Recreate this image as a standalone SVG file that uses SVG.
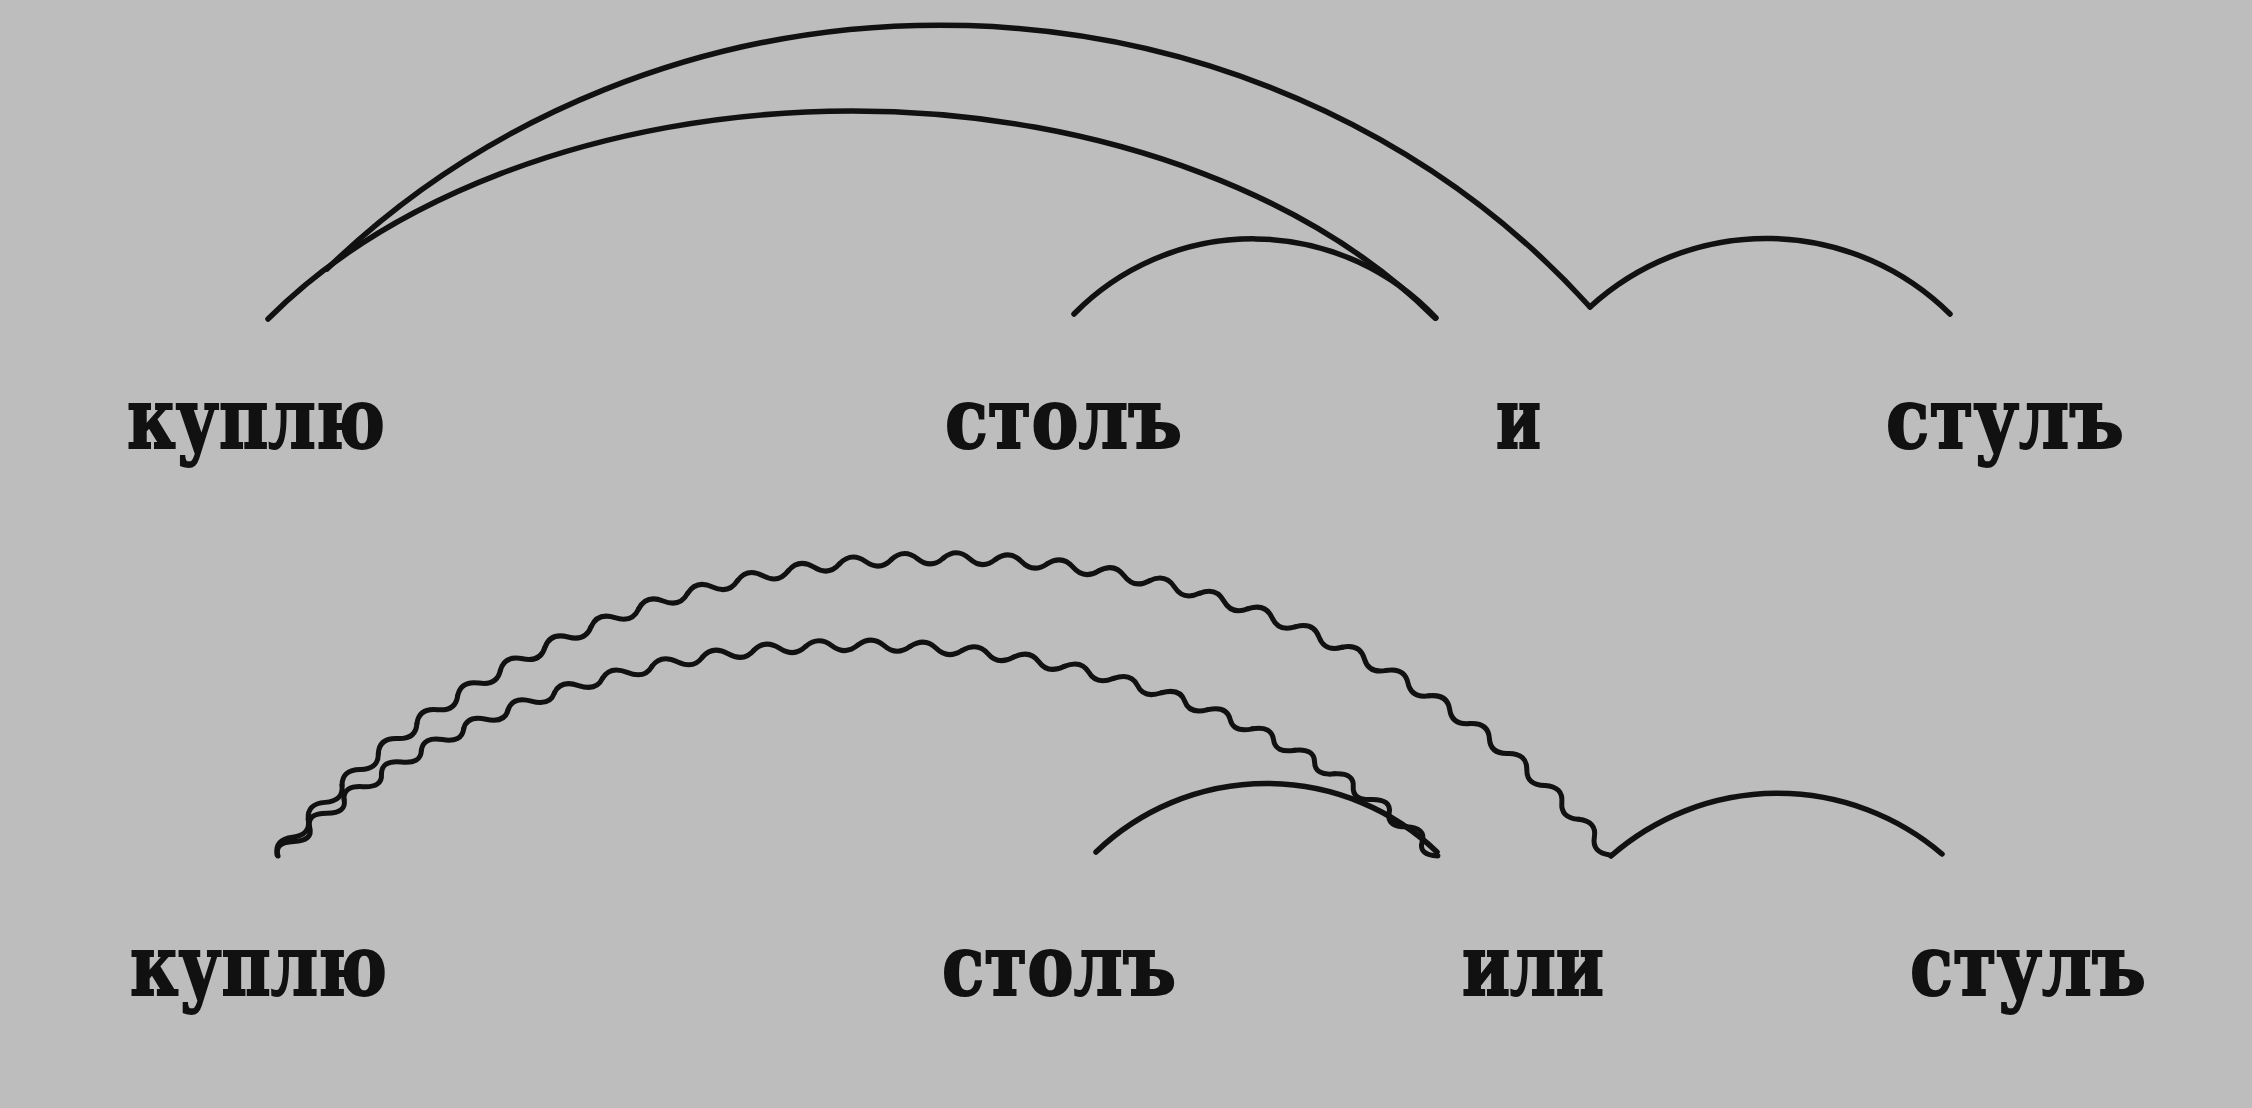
<svg xmlns="http://www.w3.org/2000/svg" xmlns:xlink="http://www.w3.org/1999/xlink" width="2252" height="1108" viewBox="0 0 2252 1108">
<style>
.arc{fill:none;stroke:#111;stroke-width:5.5;stroke-linecap:round}
.wv{fill:none;stroke:#111;stroke-width:5;stroke-linecap:round;stroke-linejoin:round}
.lbl{font-family:"DejaVu Serif","Liberation Serif",serif;font-weight:bold;font-size:84px;fill:#111;stroke:#111;stroke-width:2}
</style>
<defs>
<path id="wo" class="wv" vector-effect="non-scaling-stroke" d="M-26.03,-813.18 q13.015,-13 26.03,0 t26.03,0"/>
<path id="wi" class="wv" vector-effect="non-scaling-stroke" d="M-26.134,-707.52 q13.067,-15 26.134,0 t26.134,0"/>
</defs>
<rect width="2252" height="1108" fill="#bdbdbd"/>
<g id="connectors">
<g id="top-arcs">
<path class="arc" d="M327,269 A850,793 0 0 1 1590,307"/>
<path class="arc" d="M268,319 A700,463.5 0 0 1 1435,318"/>
<path class="arc" d="M1074,314 A251,251 0 0 1 1436,318"/>
<path class="arc" d="M1590,307 A261,261 0 0 1 1950,314"/>
</g>
<g id="bottom-arcs">
<path class="arc" d="M1096,852 A246.5,246.5 0 0 1 1437,852"/>
<path class="arc" d="M1611,856 A253,253 0 0 1 1942,854"/>
<g id="wavy-outer" transform="translate(943.5,1254.5) scale(1,0.8561)">
<use xlink:href="#wo" transform="rotate(-53.1667)"/>
<use xlink:href="#wo" transform="rotate(-49.5)"/>
<use xlink:href="#wo" transform="rotate(-45.8333)"/>
<use xlink:href="#wo" transform="rotate(-42.1667)"/>
<use xlink:href="#wo" transform="rotate(-38.5)"/>
<use xlink:href="#wo" transform="rotate(-34.8333)"/>
<use xlink:href="#wo" transform="rotate(-31.1667)"/>
<use xlink:href="#wo" transform="rotate(-27.5)"/>
<use xlink:href="#wo" transform="rotate(-23.8333)"/>
<use xlink:href="#wo" transform="rotate(-20.1667)"/>
<use xlink:href="#wo" transform="rotate(-16.5)"/>
<use xlink:href="#wo" transform="rotate(-12.8333)"/>
<use xlink:href="#wo" transform="rotate(-9.1667)"/>
<use xlink:href="#wo" transform="rotate(-5.5)"/>
<use xlink:href="#wo" transform="rotate(-1.8333)"/>
<use xlink:href="#wo" transform="rotate(1.8333)"/>
<use xlink:href="#wo" transform="rotate(5.5)"/>
<use xlink:href="#wo" transform="rotate(9.1667)"/>
<use xlink:href="#wo" transform="rotate(12.8333)"/>
<use xlink:href="#wo" transform="rotate(16.5)"/>
<use xlink:href="#wo" transform="rotate(20.1667)"/>
<use xlink:href="#wo" transform="rotate(23.8333)"/>
<use xlink:href="#wo" transform="rotate(27.5)"/>
<use xlink:href="#wo" transform="rotate(31.1667)"/>
<use xlink:href="#wo" transform="rotate(34.8333)"/>
<use xlink:href="#wo" transform="rotate(38.5)"/>
<use xlink:href="#wo" transform="rotate(42.1667)"/>
<use xlink:href="#wo" transform="rotate(45.8333)"/>
<use xlink:href="#wo" transform="rotate(49.5)"/>
<use xlink:href="#wo" transform="rotate(53.1667)"/>
</g>
<g id="wavy-inner" transform="translate(858,1139.8) scale(1,0.6989)">
<use xlink:href="#wi" transform="rotate(-52.8846)"/>
<use xlink:href="#wi" transform="rotate(-48.6538)"/>
<use xlink:href="#wi" transform="rotate(-44.4231)"/>
<use xlink:href="#wi" transform="rotate(-40.1923)"/>
<use xlink:href="#wi" transform="rotate(-35.9615)"/>
<use xlink:href="#wi" transform="rotate(-31.7308)"/>
<use xlink:href="#wi" transform="rotate(-27.5)"/>
<use xlink:href="#wi" transform="rotate(-23.2692)"/>
<use xlink:href="#wi" transform="rotate(-19.0385)"/>
<use xlink:href="#wi" transform="rotate(-14.8077)"/>
<use xlink:href="#wi" transform="rotate(-10.5769)"/>
<use xlink:href="#wi" transform="rotate(-6.3462)"/>
<use xlink:href="#wi" transform="rotate(-2.1154)"/>
<use xlink:href="#wi" transform="rotate(2.1154)"/>
<use xlink:href="#wi" transform="rotate(6.3462)"/>
<use xlink:href="#wi" transform="rotate(10.5769)"/>
<use xlink:href="#wi" transform="rotate(14.8077)"/>
<use xlink:href="#wi" transform="rotate(19.0385)"/>
<use xlink:href="#wi" transform="rotate(23.2692)"/>
<use xlink:href="#wi" transform="rotate(27.5)"/>
<use xlink:href="#wi" transform="rotate(31.7308)"/>
<use xlink:href="#wi" transform="rotate(35.9615)"/>
<use xlink:href="#wi" transform="rotate(40.1923)"/>
<use xlink:href="#wi" transform="rotate(44.4231)"/>
<use xlink:href="#wi" transform="rotate(48.6538)"/>
<use xlink:href="#wi" transform="rotate(52.8846)"/>
</g>
</g>
</g>
<g id="node-top-kuplyu"><text class="lbl" x="127" y="448" textLength="258" lengthAdjust="spacingAndGlyphs">куплю</text></g>
<g id="node-top-stol"><text class="lbl" x="945" y="448" textLength="237" lengthAdjust="spacingAndGlyphs">столъ</text></g>
<g id="node-top-i"><text class="lbl" x="1496" y="448" textLength="45" lengthAdjust="spacingAndGlyphs">и</text></g>
<g id="node-top-stul"><text class="lbl" x="1886" y="448" textLength="238" lengthAdjust="spacingAndGlyphs">стулъ</text></g>
<g id="node-bot-kuplyu"><text class="lbl" x="130" y="995" textLength="257" lengthAdjust="spacingAndGlyphs">куплю</text></g>
<g id="node-bot-stol"><text class="lbl" x="942" y="995" textLength="234" lengthAdjust="spacingAndGlyphs">столъ</text></g>
<g id="node-bot-ili"><text class="lbl" x="1462" y="995" textLength="142" lengthAdjust="spacingAndGlyphs">или</text></g>
<g id="node-bot-stul"><text class="lbl" x="1910" y="995" textLength="236" lengthAdjust="spacingAndGlyphs">стулъ</text></g>
</svg>
